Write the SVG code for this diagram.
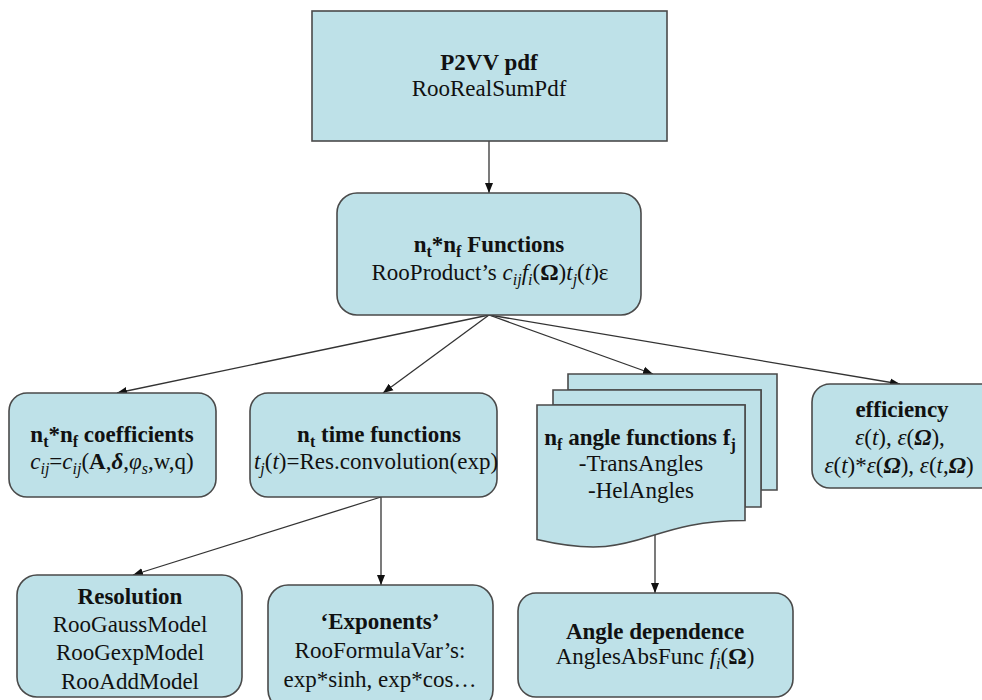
<svg xmlns="http://www.w3.org/2000/svg" width="982" height="700" viewBox="0 0 982 700">
  <defs>
    <style>
      .box { fill: #bee1e8; stroke: #4a4a4a; stroke-width: 1.6; }
      .link { fill: none; stroke: #333; stroke-width: 1.3; marker-end: url(#arrow); }
      text { font-family: "Liberation Serif", "Times New Roman", serif; font-size: 23px; fill: #111; text-anchor: middle; }
      .b { font-weight: bold; }
      .i { font-style: italic; }
      .sub { font-size: 16px; }
    </style>
    <marker id="arrow" markerWidth="10" markerHeight="10" refX="10" refY="5" orient="auto" markerUnits="userSpaceOnUse">
      <path d="M0,1 L10,5 L0,9 Z" fill="#111"/>
    </marker>
  </defs>
  <rect width="982" height="700" fill="#ffffff"/>

  <!-- connectors -->
  <g id="connectors">
    <line class="link" x1="489" y1="141" x2="489" y2="193"/>
    <line class="link" x1="489" y1="315" x2="117" y2="393"/>
    <line class="link" x1="489" y1="315" x2="383" y2="393"/>
    <line class="link" x1="489" y1="315" x2="653" y2="374"/>
    <line class="link" x1="489" y1="315" x2="900" y2="384"/>
    <line class="link" x1="381" y1="497" x2="133" y2="575"/>
    <line class="link" x1="381" y1="497" x2="381" y2="585"/>
    <line class="link" x1="655" y1="533" x2="655" y2="593"/>
  </g>

  <!-- top-level pdf -->
  <g id="p2vv">
    <rect class="box" x="312" y="11" width="355" height="130"/>
    <text class="b" x="489" y="70">P2VV pdf</text>
    <text x="489" y="96">RooRealSumPdf</text>
  </g>

  <!-- product functions -->
  <g id="functions">
    <rect class="box" x="337" y="193" width="304" height="122" rx="20"/>
    <text class="b" x="489" y="252">n<tspan class="sub" dy="5">t</tspan><tspan dy="-5">*n</tspan><tspan class="sub" dy="5">f</tspan><tspan dy="-5"> Functions</tspan></text>
    <text x="490" y="280">RooProduct’s <tspan class="i">c</tspan><tspan class="i sub" dy="5">ij</tspan><tspan class="i" dy="-5">f</tspan><tspan class="i sub" dy="5">i</tspan><tspan dy="-5">(</tspan><tspan class="b">Ω</tspan>)<tspan class="i">t</tspan><tspan class="i sub" dy="5">j</tspan><tspan dy="-5">(</tspan><tspan class="i">t</tspan>)ε</text>
  </g>

  <!-- coefficients -->
  <g id="coefficients">
    <rect class="box" x="9" y="393" width="207" height="104" rx="18"/>
    <text class="b" x="112" y="442">n<tspan class="sub" dy="5">t</tspan><tspan dy="-5">*n</tspan><tspan class="sub" dy="5">f</tspan><tspan dy="-5"> coefficients</tspan></text>
    <text x="112" y="469"><tspan class="i">c</tspan><tspan class="i sub" dy="5">ij</tspan><tspan dy="-5">=</tspan><tspan class="i">c</tspan><tspan class="i sub" dy="5">ij</tspan><tspan dy="-5">(</tspan><tspan class="b">A</tspan>,<tspan class="b i">δ</tspan>,<tspan class="i">φ</tspan><tspan class="i sub" dy="5">s</tspan><tspan dy="-5">,w,q)</tspan></text>
  </g>

  <!-- time functions -->
  <g id="time-functions">
    <rect class="box" x="250" y="393" width="247" height="104" rx="18"/>
    <text class="b" x="379" y="442">n<tspan class="sub" dy="5">t</tspan><tspan dy="-5"> time functions</tspan></text>
    <text x="376" y="469"><tspan class="i">t</tspan><tspan class="i sub" dy="5">j</tspan><tspan dy="-5">(</tspan><tspan class="i">t</tspan>)=Res.convolution(exp)</text>
  </g>

  <!-- angle functions (multi-document) -->
  <g id="angle-functions">
    <path class="box" d="M568,374 H777 V490 H761 V390 H568 Z"/>
    <path class="box" d="M553,390 H761 V507 H745 V405 H553 Z"/>
    <path class="box" d="M537,405 H745 V520.5 C641,520.5 641,564 537,539.5 Z"/>
    <text class="b" x="640" y="445">n<tspan class="sub" dy="5">f</tspan><tspan dy="-5"> angle functions f</tspan><tspan class="sub" dy="5">j</tspan></text>
    <text x="641" y="471">-TransAngles</text>
    <text x="641" y="498">-HelAngles</text>
  </g>

  <!-- efficiency -->
  <g id="efficiency">
    <rect class="box" x="812" y="384" width="200" height="104" rx="18"/>
    <text class="b" x="902" y="417">efficiency</text>
    <text x="900" y="445"><tspan class="i">ε</tspan>(<tspan class="i">t</tspan>), <tspan class="i">ε</tspan>(<tspan class="b i">Ω</tspan>),</text>
    <text x="899" y="473"><tspan class="i">ε</tspan>(<tspan class="i">t</tspan>)*<tspan class="i">ε</tspan>(<tspan class="b i">Ω</tspan>), <tspan class="i">ε</tspan>(<tspan class="i">t</tspan>,<tspan class="b i">Ω</tspan>)</text>
  </g>

  <!-- resolution models -->
  <g id="resolution">
    <rect class="box" x="17" y="575" width="225" height="122" rx="20"/>
    <text class="b" x="130" y="604">Resolution</text>
    <text x="130" y="632">RooGaussModel</text>
    <text x="130" y="660">RooGexpModel</text>
    <text x="130" y="689">RooAddModel</text>
  </g>

  <!-- exponents -->
  <g id="exponents">
    <rect class="box" x="268" y="585" width="225" height="125" rx="20"/>
    <text class="b" x="380" y="629">‘Exponents’</text>
    <text x="380" y="658">RooFormulaVar’s:</text>
    <text x="380" y="687">exp*sinh, exp*cos…</text>
  </g>

  <!-- angle dependence -->
  <g id="angle-dependence">
    <rect class="box" x="518" y="593" width="275" height="104" rx="18"/>
    <text class="b" x="655" y="639">Angle dependence</text>
    <text x="655" y="664">AnglesAbsFunc <tspan class="i">f</tspan><tspan class="i sub" dy="5">i</tspan><tspan dy="-5">(</tspan><tspan class="b">Ω</tspan>)</text>
  </g>
</svg>
